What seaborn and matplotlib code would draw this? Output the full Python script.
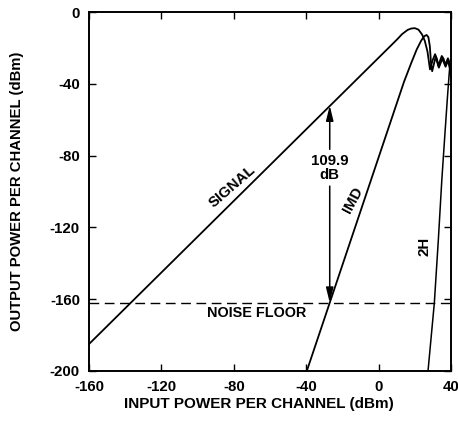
import matplotlib
matplotlib.use("Agg")
import matplotlib.pyplot as plt
import seaborn as sns
import pandas as pd

# Fundamental signal output vs. input power (dBm)
signal_x = [-160, 6, 10, 13, 16, 18, 20, 22, 24, 25.5, 27, 28.4, 29.8, 31.2, 32.2, 33,
            34, 34.9, 35.9, 36.8, 37.6, 38.3, 39, 39.6, 40]
signal_y = [-185, -19.5, -15.5, -12.3, -10, -9.2, -9, -9.8, -12.5, -16, -22, -32, -27,
            -23.5, -26, -30, -27, -24.5, -26, -29.5, -27.5, -25.8, -27.5, -32, -36]

# Third-order intermodulation product
imd_x = [-40, 14, 18, 21, 23.5, 25.2, 26.5, 27.5, 28.3, 29, 29.6, 31.5, 33.3, 35.2,
         37, 38.4, 39.6, 40]
imd_y = [-201, -39, -28.5, -21, -16, -13.5, -12.8, -14, -19, -29, -33, -25, -31,
         -26, -30.5, -27, -33, -37]

# Second harmonic
h2_x = [27.3, 30.8, 33, 34.9, 36.5, 38, 39.1, 39.6]
h2_y = [-200, -162, -127, -94, -70, -48, -33, -29]

noise_floor = -162
arrow_x = -27
signal_at_arrow = -52.1
dynamic_range_label = "109.9\ndB"

x_ticks = [-160, -120, -80, -40, 0, 40]
y_ticks = [0, -40, -80, -120, -160, -200]

sns.set_style("ticks")
plt.rcParams["font.family"] = ["Liberation Sans", "DejaVu Sans"]
plt.rcParams["font.weight"] = "bold"
plt.rcParams["text.color"] = "black"
plt.rcParams["axes.labelcolor"] = "black"
plt.rcParams["xtick.color"] = "black"
plt.rcParams["ytick.color"] = "black"

fig = plt.figure(figsize=(4.58, 4.21), dpi=100)
ax = fig.add_axes([89 / 458, 50 / 421, 362 / 458, 359 / 421])

curves = pd.concat([
    pd.DataFrame({"pin": signal_x, "pout": signal_y, "trace": "signal"}),
    pd.DataFrame({"pin": imd_x, "pout": imd_y, "trace": "imd"}),
    pd.DataFrame({"pin": h2_x, "pout": h2_y, "trace": "2h"}),
])
for name, lw in [("signal", 1.3), ("imd", 1.3), ("2h", 1.1)]:
    sns.lineplot(data=curves[curves.trace == name], x="pin", y="pout", sort=False,
                 color="black", lw=lw, ax=ax, legend=False)

sns.lineplot(x=[-160, 40], y=[noise_floor, noise_floor], color="black", lw=1.0,
             dashes=False, ax=ax, legend=False).lines[-1].set_dashes([7, 4])

# Dynamic-range arrow between signal and noise floor
arrow_kw = dict(arrowstyle="-|>,head_length=0.9,head_width=0.22", color="black",
                lw=1.1, shrinkA=0, shrinkB=0, mutation_scale=10)
ax.annotate("", xy=(arrow_x, signal_at_arrow), xytext=(arrow_x, -76.5), arrowprops=arrow_kw)
ax.annotate("", xy=(arrow_x, noise_floor), xytext=(arrow_x, -97), arrowprops=arrow_kw)
ax.text(arrow_x, -87, dynamic_range_label, ha="center", va="center", fontsize=10.8,
        fontweight="bold", linespacing=0.95)

ax.text(-81, -97, "SIGNAL", rotation=41, ha="center", va="center", fontsize=10.8,
        fontweight="bold")
ax.text(-14, -104.5, "IMD", rotation=62, ha="center", va="center", fontsize=10.8,
        fontweight="bold")
ax.text(25.6, -130.5, "2H", rotation=90, ha="center", va="center", fontsize=10.8,
        fontweight="bold")
ax.text(-67.5, -167.5, "NOISE FLOOR", ha="center", va="center", fontsize=10.4,
        fontweight="bold")

ax.set_xlim(-160, 40)
ax.set_ylim(-200, 0)
ax.set_xticks(x_ticks)
ax.set_yticks(y_ticks)
ax.set_xticklabels([str(t) for t in x_ticks])
ax.set_yticklabels([str(t) for t in y_ticks])
ax.tick_params(direction="in", length=5, width=1.0, top=True, right=True,
               labelsize=10.8, pad=6.5, colors="black")
for lab in ax.get_xticklabels() + ax.get_yticklabels():
    lab.set_fontweight("bold")
for sp in ax.spines.values():
    sp.set_visible(True)
    sp.set_linewidth(1.4)
    sp.set_color("black")

ax.set_xlabel("INPUT POWER PER CHANNEL (dBm)", fontsize=11, fontweight="bold")
ax.set_ylabel("OUTPUT POWER PER CHANNEL (dBm)", fontsize=10.7, fontweight="bold",
              va="center")
ax.xaxis.set_label_coords(0.47, -0.072)
ax.yaxis.set_label_coords(-0.2, 0.5)

fig.savefig("out.png", dpi=100, facecolor="white")
